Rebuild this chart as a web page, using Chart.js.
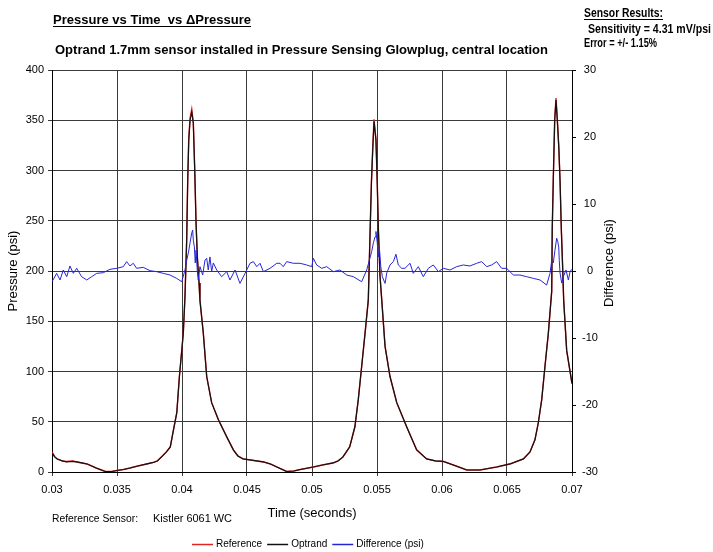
<!DOCTYPE html>
<html>
<head>
<meta charset="utf-8">
<script src="https://cdn.jsdelivr.net/npm/chart.js@4.4.1/dist/chart.umd.min.js"></script>
<style>
    html, body { margin: 0; padding: 0; background: #fff; }
    #chart { display: block; }
</style>
</head>
<body>
<canvas id="chart" width="713" height="552"></canvas>
<script>
// Time axis (seconds) for the pressure traces
const timeSec = [
    0.0300, 0.0302, 0.0304, 0.0308, 0.0311, 0.0316, 0.0319, 0.0323, 0.0327, 0.0334,
    0.0338, 0.0341, 0.0346, 0.0350, 0.0355, 0.0360, 0.0366, 0.0373, 0.0378, 0.0381,
    0.0385, 0.0388, 0.0391, 0.0393, 0.0396, 0.0398, 0.0401, 0.04023, 0.04036, 0.04044,
    0.04052, 0.04062, 0.04075, 0.04087, 0.04098, 0.04108, 0.04118, 0.04131, 0.04138, 0.04164,
    0.0419, 0.04228, 0.0428, 0.04344, 0.04395, 0.0443, 0.0447, 0.04575, 0.04626, 0.0468,
    0.04729, 0.04805, 0.0486, 0.0491, 0.0501, 0.0508, 0.05162, 0.0520, 0.05238, 0.0529,
    0.0533, 0.05356, 0.05382, 0.05408, 0.05433, 0.05445, 0.05457, 0.05467, 0.05477, 0.05492,
    0.05502, 0.0551, 0.05523, 0.05536, 0.05562, 0.0560, 0.05652, 0.05728, 0.05805, 0.05882,
    0.0595, 0.0601, 0.06087, 0.0614, 0.0619, 0.06292, 0.0642, 0.06523, 0.06626, 0.06677,
    0.06715, 0.06741, 0.06767, 0.06792, 0.06818, 0.06844, 0.06848, 0.06856, 0.06867, 0.06877,
    0.06887, 0.06898, 0.06908, 0.06918, 0.06928, 0.06936, 0.06959, 0.0700
];

// Optrand sensor pressure (psi)
const optrandPsi = [
    19, 15, 13, 11, 10, 10.5, 10, 9, 8, 4,
    2, 0.5, 0.5, 1.5, 2.5, 4, 6, 8, 9.5, 11,
    16, 20, 25, 39, 59, 95, 138, 175, 230, 290,
    330, 350, 358, 347, 300, 248, 214, 188, 171, 138,
    95, 69, 52, 35, 22, 16, 13, 11, 10, 8,
    5, 0.5, 1, 2.5, 5, 7, 9, 11, 15, 25,
    45, 72, 105, 138, 171, 230, 287, 320, 349, 330,
    287, 244, 195, 172, 125, 95, 69, 45, 22, 13,
    11, 10.5, 7, 4.5, 2, 2, 5, 8, 13, 20,
    32, 49, 72, 105, 138, 180, 241, 290, 350, 370,
    350, 324, 290, 241, 204, 171, 121, 88
];

// Kistler reference pressure (psi)
const referencePsi = [
    20, 15.5, 13, 11, 10.5, 11, 10, 9, 8, 4,
    2, 0.5, 0.5, 1.5, 2.5, 4, 6, 8, 9.5, 11,
    16, 20, 25, 39, 59, 95, 138, 175, 231, 291,
    332, 352, 361, 348, 301, 248, 214, 188, 171, 138,
    95, 69, 52, 35, 22, 16, 13, 11, 10, 8,
    5, 0.5, 1, 2.5, 5, 7, 9, 11, 15, 25,
    45, 72, 105, 138, 171, 230, 288, 322, 351, 331,
    287, 244, 195, 172, 125, 95, 69, 45, 22, 13,
    11, 10.5, 7, 4.5, 2, 2, 5, 8, 13, 20,
    32, 49, 72, 105, 138, 180, 242, 291, 352, 372,
    351, 325, 290, 241, 204, 171, 121, 88
];

// Difference trace (psi), own time base
const diffTime = [
    0.0300, 0.03036, 0.03062, 0.03087, 0.03113, 0.03138, 0.03164, 0.0319, 0.03228, 0.03267,
    0.03305, 0.03344, 0.03395, 0.03446, 0.03498, 0.03549, 0.03574, 0.0360, 0.03625, 0.03651,
    0.03702, 0.03754, 0.03805, 0.03856, 0.03908, 0.03959, 0.03998, 0.04023, 0.04036, 0.04049,
    0.04062, 0.04075, 0.04082, 0.04087, 0.04095, 0.04102, 0.04108, 0.04118, 0.04125, 0.04138,
    0.04159, 0.04177, 0.0419, 0.04202, 0.04215, 0.04228, 0.04241, 0.04267, 0.04305, 0.04344,
    0.04369, 0.04408, 0.04446, 0.04485, 0.04523, 0.04549, 0.04575, 0.0460, 0.04626, 0.04677,
    0.04729, 0.04754, 0.04779, 0.04805, 0.04856, 0.04908, 0.04959, 0.04998, 0.0501, 0.05036,
    0.05075, 0.05113, 0.05164, 0.05215, 0.05267, 0.05318, 0.05382, 0.05421, 0.05441, 0.05459,
    0.05472, 0.05485, 0.05492, 0.05502, 0.0551, 0.05518, 0.05529, 0.05541, 0.05562, 0.05575,
    0.0560, 0.05626, 0.05646, 0.05664, 0.0569, 0.05715, 0.05754, 0.05779, 0.05818, 0.05856,
    0.05895, 0.05933, 0.05972, 0.0601, 0.06062, 0.06113, 0.06164, 0.06215, 0.06267, 0.06305,
    0.06344, 0.06382, 0.0642, 0.06459, 0.06497, 0.06549, 0.0660, 0.06651, 0.06703, 0.06754,
    0.06805, 0.06831, 0.06844, 0.06856, 0.06869, 0.06882, 0.0689, 0.06898, 0.06902, 0.06908,
    0.06921, 0.06933, 0.06954, 0.06972, 0.06985, 0.06998
];

const diffPsi = [
    -1.6, -0.35, -1.34, 0.15, -0.85, 0.75, -0.35, 0.4, -0.85, -1.34,
    -0.85, -0.35, -0.25, 0.25, 0.4, 0.65, 1.4, 0.75, 1.15, 0.4,
    0.55, 0.05, -0.1, -0.35, -0.6, -1.1, -1.6, 0.15, 1.6, 2.7,
    4.2, 5.7, 6.1, 4.6, 3.6, 1.2, 3.1, -0.1, -1.35, 0.65,
    -0.6, 1.65, 1.9, 0.15, 2.1, -0.1, 1.2, 0.15, -0.85, -0.1,
    -1.34, 0.15, -1.85, -0.35, 1.15, 1.4, 0.65, 1.15, -0.1, 0.4,
    1.15, 1.15, 0.65, 1.4, 1.15, 1.15, 0.9, 0.65, 1.9, 0.9,
    0.4, 0.65, -0.1, 0.15, -0.6, -0.85, -1.6, 0.15, 1.6, 2.9,
    4.2, 5.1, 5.9, 4.2, 2.1, 3.6, 0.65, -0.85, -1.85, -0.3,
    0.9, 1.4, 2.5, 0.9, 0.4, 0.4, 1.15, -0.35, 0.65, -0.85,
    0.4, 0.9, -0.1, 0.4, 0.15, 0.65, 0.9, 0.75, 1.15, 1.4,
    0.65, 0.9, 1.4, 0.4, 0.4, -0.6, -0.6, -0.85, -1.1, -1.34,
    -2.1, -0.35, 1.6, 1.2, 3.1, 4.9, 4.4, 3.6, 1.6, -0.3,
    -1.8, -0.85, 0.15, -1.35, -0.1, 0.25
];

const FONT = '"Liberation Sans", Arial, sans-serif';
Chart.defaults.font.family = FONT;
Chart.defaults.color = '#000';

const toPoints = (xs, ys) => xs.map((x, i) => ({ x, y: ys[i] }));

/**
 * Draw text squeezed/stretched to a target width
 */
function fitText(ctx, text, x, y, width, font, underline) {
    ctx.save();
    ctx.font = font;
    ctx.textBaseline = 'middle';
    ctx.textAlign = 'left';
    const w = ctx.measureText(text).width;
    const sx = Math.max(0.7, Math.min(1.3, width / w));
    ctx.translate(x, y);
    ctx.scale(sx, 1);
    ctx.fillText(text, 0, 0);
    ctx.restore();
    if (underline) {
        ctx.save();
        ctx.strokeStyle = '#000';
        ctx.lineWidth = 1;
        ctx.beginPath();
        ctx.moveTo(x, underline + 0.5);
        ctx.lineTo(x + width, underline + 0.5);
        ctx.stroke();
        ctx.restore();
    }
}

// Headings, notes, right axis title and legend
const annotations = {
    id: 'annotations',
    afterDraw(chart) {
        const ctx = chart.ctx;
        ctx.fillStyle = '#000';
        fitText(ctx, 'Pressure vs Time  vs \u0394Pressure', 53, 20, 198, 'bold 13px ' + FONT, 26);
        fitText(ctx, 'Optrand 1.7mm sensor installed in Pressure Sensing Glowplug, central location', 55, 50, 493, 'bold 13px ' + FONT);
        fitText(ctx, 'Sensor Results:', 584, 14, 79, 'bold 12px ' + FONT, 19);
        fitText(ctx, 'Sensitivity = 4.31 mV/psi', 588, 30, 123, 'bold 12px ' + FONT);
        fitText(ctx, 'Error = +/- 1.15%', 584, 44, 73, 'bold 12px ' + FONT);
        fitText(ctx, 'Reference Sensor:', 52, 519, 86, '10px ' + FONT);
        fitText(ctx, 'Kistler 6061 WC', 153, 519, 79, '10px ' + FONT);

        // right axis title, reading bottom to top
        ctx.save();
        ctx.font = '13px ' + FONT;
        ctx.textAlign = 'center';
        ctx.textBaseline = 'middle';
        ctx.translate(609, 263);
        ctx.rotate(-Math.PI / 2);
        ctx.fillText('Difference (psi)', 0, 0);
        ctx.restore();

        // legend
        ctx.save();
        ctx.font = '10px ' + FONT;
        ctx.textBaseline = 'middle';
        let x = 192;
        const y = 544;
        chart.data.datasets.forEach(ds => {
            ctx.strokeStyle = ds.borderColor;
            ctx.lineWidth = 1.5;
            ctx.beginPath();
            ctx.moveTo(x, y + 0.5);
            ctx.lineTo(x + 21, y + 0.5);
            ctx.stroke();
            ctx.fillStyle = '#000';
            ctx.fillText(ds.label, x + 24, y);
            x += 24 + ctx.measureText(ds.label).width + 5;
        });
        ctx.restore();
    }
};

const ctx = document.getElementById('chart').getContext('2d');
new Chart(ctx, {
    type: 'line',
    data: {
        datasets: [
            {
                label: 'Reference',
                data: toPoints(timeSec, referencePsi),
                borderColor: '#e02424',
                borderWidth: 1.4,
                pointRadius: 0,
                yAxisID: 'y',
                order: 2
            },
            {
                label: 'Optrand',
                data: toPoints(timeSec, optrandPsi),
                borderColor: '#111111',
                borderWidth: 1.2,
                pointRadius: 0,
                yAxisID: 'y',
                order: 1
            },
            {
                label: 'Difference (psi)',
                data: toPoints(diffTime, diffPsi),
                borderColor: '#2626d6',
                borderWidth: 1,
                pointRadius: 0,
                yAxisID: 'y2',
                order: 0
            }
        ]
    },
    options: {
        responsive: false,
        animation: false,
        events: [],
        layout: { padding: { top: 70, left: 0, right: 101, bottom: 0 } },
        plugins: {
            legend: { display: false },
            tooltip: { enabled: false }
        },
        scales: {
            x: {
                type: 'linear',
                min: 0.03,
                max: 0.07,
                ticks: {
                    stepSize: 0.005,
                    font: { size: 11 },
                    padding: 7,
                    maxRotation: 0,
                    callback: v => String(parseFloat(v.toFixed(4)))
                },
                grid: { color: '#3a3a3a', tickLength: 4 },
                border: { color: '#000' },
                title: {
                    display: true,
                    text: 'Time (seconds)',
                    font: { size: 13 },
                    padding: { top: 0, bottom: 31 }
                },
                afterFit: scale => { scale.height = 80; }
            },
            y: {
                position: 'left',
                min: 0,
                max: 400,
                ticks: { stepSize: 50, font: { size: 11 }, padding: 4 },
                grid: { color: '#3a3a3a', tickLength: 4 },
                border: { color: '#000' },
                title: {
                    display: true,
                    text: 'Pressure (psi)',
                    font: { size: 13 },
                    padding: { top: 6, bottom: 0 }
                },
                afterFit: scale => { scale.width = 52; }
            },
            y2: {
                position: 'right',
                min: -30,
                max: 30,
                ticks: { stepSize: 10, font: { size: 11 }, padding: 6, crossAlign: 'center' },
                grid: { drawOnChartArea: false, color: '#000', tickLength: 4 },
                border: { color: '#000' },
                afterFit: scale => { scale.width = 40; }
            }
        }
    },
    plugins: [annotations]
});
</script>
</body>
</html>
